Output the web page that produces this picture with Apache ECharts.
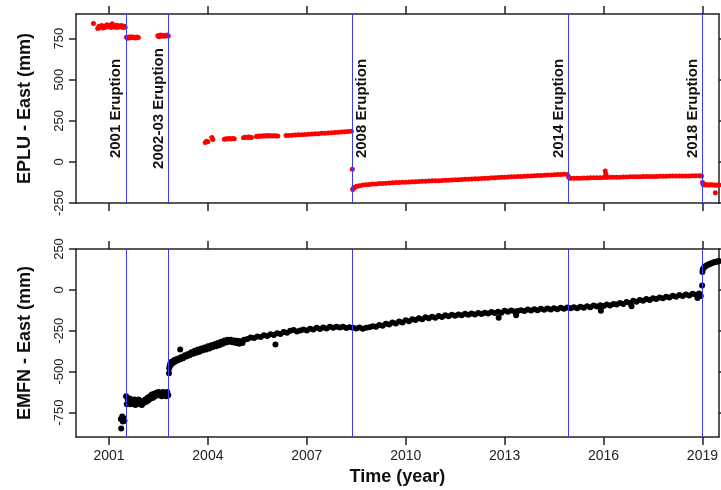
<!DOCTYPE html>
<html><head><meta charset="utf-8">
<script src="https://cdn.jsdelivr.net/npm/echarts@6/dist/echarts.min.js"></script>
<style>html,body{margin:0;padding:0;background:#fff}#c{width:721px;height:490px}</style>
</head><body><div id="c"></div>
<script>
// ---- tick labels / categories ----
const xTickLabels = [2001, 2004, 2007, 2010, 2013, 2016, 2019];
const epluTicks = [-250, 0, 250, 500, 750];
const emfnTicks = [-750, -500, -250, 0, 250];
const eruptionYears = [2001.51, 2002.81, 2008.37, 2014.93, 2018.99];
const eruptionNames = ['2001 Eruption', '2002-03 Eruption', '2008 Eruption', '2014 Eruption', '2018 Eruption'];

// ---- EPLU East (mm): [year, value] ----
const eplu2000 = [[2000.53,842],[2000.66,812],[2000.7,825],[2000.74,818],[2000.78,830],[2000.82,815],[2000.86,826],[2000.9,820],[2000.94,835],[2000.98,822],[2001.02,830],[2001.06,818],[2001.1,840],[2001.14,825],[2001.18,820],[2001.22,832],[2001.26,818],[2001.3,828],[2001.34,822],[2001.38,830],[2001.42,818],[2001.46,825],[2001.49,820]];
const eplu2001 = [[2001.53,758],[2001.57,752],[2001.61,760],[2001.65,755],[2001.69,762],[2001.73,756],[2001.77,758],[2001.81,754],[2001.85,760],[2001.89,757],[2002.48,768],[2002.52,762],[2002.56,772],[2002.6,765],[2002.64,770],[2002.68,764],[2002.72,768],[2002.76,772],[2002.8,766]];
const eplu2003 = [[2003.92,118],[2003.96,126],[2004.0,122],[2004.12,148],[2004.15,136],[2004.5,138],[2004.55,141],[2004.6,139],[2004.65,142],[2004.7,140],[2004.75,143],[2004.8,141],[2005.08,147],[2005.13,150],[2005.18,148],[2005.23,152],[2005.28,150],[2005.32,149],[2005.47,155],[2005.52,157],[2005.57,156],[2005.62,158],[2005.67,157],[2005.72,159],[2005.77,158],[2005.82,160],[2005.87,158],[2005.92,159],[2005.97,157],[2006.02,159],[2006.07,158],[2006.12,157],[2006.37,160],[2006.45,161],[2006.55,162],[2006.65,163],[2006.75,165],[2006.85,166],[2006.95,167],[2007.05,168],[2007.15,170],[2007.25,171],[2007.35,172],[2007.45,174],[2007.55,175],[2007.65,176],[2007.75,178],[2007.85,179],[2007.95,181],[2008.05,182],[2008.15,184],[2008.25,185],[2008.35,187]];
const eplu2008 = [[2008.38,-45],[2008.39,-168],[2008.41,-160],[2008.44,-155],[2008.48,-151],[2008.53,-148],[2008.6,-145],[2008.7,-141],[2008.8,-139],[2008.9,-137],[2009.0,-135],[2009.1,-134],[2009.2,-132],[2009.3,-131],[2009.4,-130],[2009.5,-129],[2009.6,-127],[2009.7,-126],[2009.8,-125],[2009.9,-124],[2010.0,-123],[2010.1,-122],[2010.2,-121],[2010.3,-120],[2010.4,-119],[2010.5,-118],[2010.6,-117],[2010.7,-116],[2010.8,-115],[2010.9,-115],[2011.0,-114],[2011.1,-113],[2011.2,-112],[2011.3,-111],[2011.4,-110],[2011.5,-109],[2011.6,-108],[2011.7,-107],[2011.8,-106],[2011.9,-105],[2012.0,-104],[2012.1,-103],[2012.2,-102],[2012.3,-101],[2012.4,-100],[2012.5,-99],[2012.6,-97],[2012.7,-96],[2012.8,-95],[2012.9,-94],[2013.0,-93],[2013.1,-92],[2013.2,-91],[2013.3,-90],[2013.4,-89],[2013.5,-88],[2013.6,-87],[2013.7,-86],[2013.8,-85],[2013.9,-84],[2014.0,-83],[2014.1,-82],[2014.2,-81],[2014.3,-80],[2014.4,-79],[2014.5,-78],[2014.6,-77],[2014.7,-76],[2014.8,-75],[2014.9,-76]];
const eplu2014 = [[2014.94,-92],[2014.97,-98],[2015.0,-100],[2015.1,-100],[2015.2,-99],[2015.3,-99],[2015.4,-98],[2015.5,-98],[2015.6,-97],[2015.7,-97],[2015.8,-96],[2015.9,-96],[2016.0,-95],[2016.05,-55],[2016.07,-75],[2016.1,-95],[2016.2,-94],[2016.3,-94],[2016.4,-93],[2016.5,-93],[2016.6,-92],[2016.7,-92],[2016.8,-91],[2016.9,-91],[2017.0,-90],[2017.1,-90],[2017.2,-89],[2017.3,-89],[2017.4,-89],[2017.5,-88],[2017.6,-88],[2017.7,-87],[2017.8,-87],[2017.9,-87],[2018.0,-86],[2018.1,-86],[2018.2,-86],[2018.3,-85],[2018.4,-85],[2018.5,-85],[2018.6,-85],[2018.7,-84],[2018.8,-84],[2018.9,-84],[2018.97,-85]];
const eplu2018 = [[2019.0,-125],[2019.02,-138],[2019.06,-140],[2019.1,-138],[2019.15,-141],[2019.2,-140],[2019.25,-139],[2019.3,-141],[2019.35,-140],[2019.39,-187],[2019.4,-142],[2019.45,-140],[2019.5,-141]];

// ---- EMFN East (mm): [year, value] ----
const emfn2001 = [[2001.36,-790],[2001.4,-775],[2001.42,-805],[2001.45,-785],[2001.47,-800],[2001.37,-848]];
const emfn2002 = [[2001.52,-650],[2001.54,-700],[2001.57,-670],[2001.6,-690],[2001.63,-665],[2001.66,-700],[2001.7,-675],[2001.73,-695],[2001.77,-670],[2001.8,-705],[2001.84,-680],[2001.87,-690],[2001.9,-670],[2001.94,-700],[2001.97,-685],[2002.0,-705],[2002.04,-680],[2002.07,-690],[2002.1,-670],[2002.14,-685],[2002.17,-660],[2002.2,-675],[2002.24,-650],[2002.27,-665],[2002.3,-640],[2002.34,-660],[2002.37,-635],[2002.4,-650],[2002.44,-630],[2002.47,-645],[2002.5,-625],[2002.54,-645],[2002.57,-630],[2002.6,-650],[2002.64,-625],[2002.67,-645],[2002.7,-630],[2002.74,-650],[2002.77,-625],[2002.8,-645]];
const emfn2003 = [[2002.82,-510],[2002.83,-480],[2002.84,-465],[2002.86,-450],[2002.88,-460],[2002.9,-440],[2002.94,-448],[2002.97,-430],[2003.0,-440],[2003.04,-425],[2003.08,-432],[2003.12,-418],[2003.16,-364],[2003.17,-425],[2003.2,-410],[2003.25,-418],[2003.3,-400],[2003.35,-408],[2003.4,-392],[2003.45,-400],[2003.5,-382],[2003.55,-390],[2003.6,-372],[2003.65,-385],[2003.7,-365],[2003.75,-378],[2003.8,-358],[2003.85,-370],[2003.9,-352],[2003.95,-365],[2004.0,-345],[2004.05,-358],[2004.1,-338],[2004.15,-350],[2004.2,-332],[2004.25,-345],[2004.3,-325],[2004.35,-338],[2004.4,-318],[2004.45,-330],[2004.5,-310],[2004.55,-322],[2004.6,-305],[2004.65,-318],[2004.7,-305],[2004.75,-320],[2004.8,-310],[2004.85,-325],[2004.9,-312],[2004.95,-330],[2005.0,-315],[2005.05,-325]];
const emfn2005 = [[2005.1,-305],[2005.2,-300],[2005.3,-292],[2005.4,-295],[2005.5,-285],[2005.6,-288],[2005.7,-278],[2005.8,-282],[2005.9,-272],[2006.0,-276],[2006.05,-334],[2006.1,-265],[2006.2,-270],[2006.3,-258],[2006.4,-262],[2006.5,-250],[2006.6,-245],[2006.7,-255],[2006.8,-248],[2006.9,-242],[2007.0,-248],[2007.1,-238],[2007.2,-243],[2007.3,-232],[2007.4,-240],[2007.5,-230],[2007.6,-236],[2007.7,-226],[2007.8,-232],[2007.9,-225],[2008.0,-230],[2008.1,-226],[2008.2,-234],[2008.3,-228],[2008.4,-232],[2008.5,-236],[2008.6,-230],[2008.7,-238],[2008.8,-232],[2008.9,-228],[2009.0,-222],[2009.1,-226],[2009.2,-215],[2009.3,-220],[2009.4,-208],[2009.5,-212],[2009.6,-200],[2009.7,-206],[2009.8,-194],[2009.9,-199],[2010.0,-186],[2010.1,-192],[2010.2,-180],[2010.3,-185],[2010.4,-174],[2010.5,-180],[2010.6,-168],[2010.7,-174],[2010.8,-164],[2010.9,-170],[2011.0,-160],[2011.1,-166],[2011.2,-156],[2011.3,-162],[2011.4,-152],[2011.5,-158],[2011.6,-150],[2011.7,-155],[2011.8,-146],[2011.9,-152],[2012.0,-144],[2012.1,-150],[2012.2,-142],[2012.3,-148],[2012.4,-140],[2012.5,-145],[2012.6,-136],[2012.7,-142],[2012.8,-134],[2012.82,-170],[2012.9,-140]];
const emfn2013 = [[2013.0,-128],[2013.1,-134],[2013.2,-126],[2013.3,-132],[2013.35,-155],[2013.4,-130],[2013.5,-124],[2013.6,-130],[2013.7,-120],[2013.8,-126],[2013.9,-118],[2014.0,-125],[2014.1,-116],[2014.2,-122],[2014.3,-114],[2014.4,-120],[2014.5,-112],[2014.6,-118],[2014.7,-110],[2014.8,-116],[2014.9,-108],[2015.0,-113],[2015.1,-106],[2015.2,-112],[2015.3,-104],[2015.4,-110],[2015.5,-100],[2015.6,-106],[2015.7,-96],[2015.8,-102],[2015.9,-94],[2015.92,-128],[2016.0,-98],[2016.1,-90],[2016.2,-95],[2016.3,-86],[2016.4,-90],[2016.5,-80],[2016.6,-86],[2016.7,-74],[2016.8,-80],[2016.85,-100],[2016.9,-66],[2017.0,-72],[2017.1,-62],[2017.2,-66],[2017.3,-56],[2017.4,-62],[2017.5,-52],[2017.6,-56],[2017.7,-46],[2017.8,-52],[2017.9,-42],[2018.0,-46],[2018.1,-36],[2018.2,-42],[2018.3,-32],[2018.4,-38],[2018.5,-28],[2018.6,-34],[2018.7,-24],[2018.8,-30],[2018.85,-50],[2018.9,-22],[2018.95,-38]];
const emfn2018 = [[2018.99,26],[2019.0,110],[2019.01,125],[2019.03,132],[2019.06,140],[2019.1,146],[2019.14,150],[2019.18,155],[2019.22,158],[2019.26,162],[2019.3,166],[2019.34,168],[2019.38,170],[2019.42,172],[2019.46,174],[2019.5,176]];

const FONT = 'Liberation Sans, Arial, sans-serif';
const AX = '#222';
const BLUE = '#3a3aff';

function xAxis(grid, pos, showLabels, name) {
  return {
    type: 'value', gridIndex: grid, position: pos, min: 2000, max: 2019.5,
    axisLine: { show: true, onZero: false, lineStyle: { color: AX, width: 1.5 } },
    axisTick: { show: true, inside: false, length: 8, customValues: xTickLabels, lineStyle: { color: AX, width: 1.5 } },
    axisLabel: { show: showLabels, customValues: xTickLabels, fontSize: 14, color: '#222', margin: 12, fontFamily: FONT, formatter: v => String(v) },
    splitLine: { show: false },
    name: name || '', nameLocation: 'middle', nameGap: 31,
    nameTextStyle: { fontSize: 18, fontWeight: 'bold', color: '#111', fontFamily: FONT }
  };
}
function yAxis(grid, pos, min, max, ticks, name) {
  const left = pos === 'left';
  return {
    type: 'value', gridIndex: grid, position: pos, min: min, max: max,
    axisLine: { show: true, onZero: false, lineStyle: { color: AX, width: 1.5 } },
    axisTick: { show: true, inside: false, length: 7, customValues: ticks, lineStyle: { color: AX, width: 1.5 } },
    axisLabel: { show: left, customValues: ticks, rotate: 90, fontSize: 13, color: '#222', margin: 10, fontFamily: FONT },
    splitLine: { show: false },
    name: left ? name : '', nameLocation: 'middle', nameGap: 42,
    nameTextStyle: { fontSize: 18, fontWeight: 'bold', color: '#111', fontFamily: FONT }
  };
}
function eruptionLines(withLabels) {
  return {
    silent: true, symbol: 'none', animation: false,
    lineStyle: { color: BLUE, width: 1, type: 'solid', opacity: 1 },
    label: { show: withLabels, fontSize: 15, fontWeight: 'bold', color: '#111', fontFamily: FONT, distance: 2 },
    data: eruptionYears.map((x, i) => ({
      xAxis: x,
      lineStyle: { color: BLUE, width: 1, type: 'solid' },
      label: { show: withLabels, formatter: eruptionNames[i], position: i === 2 ? 'insideMiddleBottom' : 'insideMiddleTop' }
    }))
  };
}

const chart = echarts.init(document.getElementById('c'), null, { renderer: 'canvas' });
chart.setOption({
  animation: false,
  backgroundColor: '#fff',
  grid: [
    { left: 76, right: 2, top: 14, height: 189 },
    { left: 76, right: 2, top: 249, height: 188 }
  ],
  xAxis: [
    xAxis(0, 'bottom', false), xAxis(0, 'top', false),
    xAxis(1, 'bottom', true, 'Time (year)'), xAxis(1, 'top', false)
  ],
  yAxis: [
    yAxis(0, 'left', -250, 900, epluTicks, 'EPLU - East (mm)'), yAxis(0, 'right', -250, 900, epluTicks),
    yAxis(1, 'left', -900, 250, emfnTicks, 'EMFN - East (mm)'), yAxis(1, 'right', -900, 250, emfnTicks)
  ],
  series: [
    {
      type: 'scatter', xAxisIndex: 0, yAxisIndex: 0, symbolSize: 5,
      itemStyle: { color: '#ff0000', opacity: 1 },
      data: [].concat(eplu2000, eplu2001, eplu2003, eplu2008, eplu2014, eplu2018),
      markLine: eruptionLines(true), z: 3
    },
    {
      type: 'scatter', xAxisIndex: 2, yAxisIndex: 2, symbolSize: 6,
      itemStyle: { color: '#000', opacity: 1 },
      data: [].concat(emfn2001, emfn2002, emfn2003, emfn2005, emfn2013, emfn2018),
      markLine: eruptionLines(false), z: 3
    }
  ]
});
</script></body></html>
